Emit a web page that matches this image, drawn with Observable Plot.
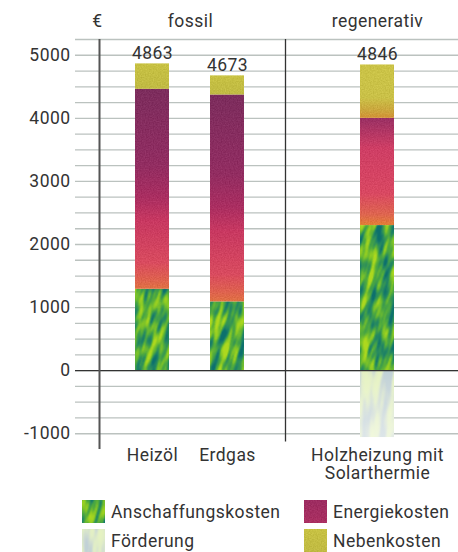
<!DOCTYPE html>
<html lang="de">
<head>
<meta charset="utf-8">
<script src="https://cdn.jsdelivr.net/npm/d3@7"></script>
<script src="https://cdn.jsdelivr.net/npm/@observablehq/plot@0.6"></script>
<style>
  body { margin: 0; background: #fff; font-family: Roboto, "DejaVu Sans", sans-serif; color: #333; }
  #chart svg { display: block; letter-spacing: 0.45px; }
  .legend { display: grid; grid-template-columns: 222px auto; row-gap: 6px; margin: 10px 0 0 82px;
            font-size: 17.5px; font-weight: 400; letter-spacing: 0.45px; color: #333; }
  .legend div { display: flex; align-items: center; height: 23px; }
  .legend svg { margin-right: 6px; flex: none; }
</style>
</head>
<body>
<div id="chart"></div>
<div class="legend" id="legend"></div>
<script>
// Kosten je Heizsystem (€)
const kategorien = ["Heizöl", "Erdgas", "Holzheizung mit\nSolarthermie"];
const anschaffung = [1290, 1090, 2300];
const energie = [3170, 3280, 1700];
const neben = [403, 303, 846];
const foerderung = [0, 0, -1060];
const gruppen = [
  {name: "fossil", von: "Heizöl"},
  {name: "regenerativ", von: "Holzheizung mit\nSolarthermie"}
];
const kostenarten = ["Anschaffungskosten", "Energiekosten", "Förderung", "Nebenkosten"];
const yLabels = [-1000, 0, 1000, 2000, 3000, 4000, 5000];
const gitter = d3.range(-1000, 5251, 250);

const reihen = [
  ["Anschaffungskosten", anschaffung],
  ["Energiekosten", energie],
  ["Nebenkosten", neben],
  ["Förderung", foerderung]
];
const daten = reihen
  .flatMap(([art, werte]) => werte.map((wert, i) => ({kategorie: kategorien[i], art, wert})))
  .filter((d) => d.wert !== 0);
const summen = kategorien.map((k, i) => ({kategorie: k, summe: anschaffung[i] + energie[i] + neben[i]}));

// Füllungen: Texturen und Verläufe aus den <defs>
const regenerativ = kategorien[2];
function fuellung(d) {
  switch (d.art) {
    case "Anschaffungskosten": return "url(#anschaffung)";
    case "Förderung": return "url(#foerderung)";
    case "Energiekosten": return d.kategorie === regenerativ ? "url(#energieHolz)" : "url(#energie)";
    default: return d.kategorie === regenerativ ? "url(#nebenHolz)" : "url(#neben)";
  }
}

const font = 17.5;
const textFarbe = "#333";
const plot = Plot.plot({
  width: 458,
  height: 490,
  marginLeft: 98,
  marginRight: 0,
  marginTop: 39,
  marginBottom: 41,
  style: {fontFamily: "Roboto, 'DejaVu Sans', sans-serif", fontSize: font + "px", fontWeight: 400, color: textFarbe, background: "transparent"},
  x: {domain: [kategorien[0], kategorien[1], "", kategorien[2]], paddingInner: 0.55, paddingOuter: 0.654, align: 0.364, axis: null},
  y: {domain: [-1250, 5250], axis: null},
  color: {type: "identity"},
  marks: [
    Plot.ruleY(gitter, {stroke: "#bbc2bf", strokeWidth: 1.3, insetLeft: -23}),
    Plot.barY(daten, {x: "kategorie", y: "wert", fill: fuellung}),
    // Förderung blasst nach unten aus
    Plot.barY(daten.filter((d) => d.art === "Förderung"), {x: "kategorie", y: "wert", fill: "url(#verblassen)"}),
    Plot.ruleY([0], {stroke: "#333", strokeWidth: 1.3, insetLeft: -23}),
    // senkrechte Achse und Trennlinie fossil | regenerativ
    Plot.ruleX([kategorien[0]], {x: (d) => d, dx: -53, stroke: "#555", strokeWidth: 2}),
    Plot.ruleX([""], {x: (d) => d, dx: -17, y1: 5250, y2: -1130, stroke: "#333", strokeWidth: 1.3}),
    Plot.text(yLabels, {y: (d) => d, text: (d) => String(d), frameAnchor: "left", textAnchor: "end", dx: -28, fontSize: font, fill: textFarbe}),
    Plot.text(summen, {x: "kategorie", y: "summe", text: (d) => String(d.summe), lineAnchor: "bottom", dy: -5, fontSize: font, fill: textFarbe}),
    Plot.text(kategorien, {x: (d) => d, text: (d) => d, frameAnchor: "bottom", lineAnchor: "top", dy: -2, lineHeight: 1.06, fontSize: font, fill: textFarbe}),
    Plot.text(["€"], {text: (d) => d, frameAnchor: "top-left", textAnchor: "middle", lineAnchor: "bottom", dx: -1, dy: -13, fontSize: font, fill: textFarbe}),
    Plot.text([gruppen[0]], {x: "von", text: "name", frameAnchor: "top", lineAnchor: "bottom", dx: 38, dy: -13, fontSize: font, fill: textFarbe}),
    Plot.text([gruppen[1]], {x: "von", text: "name", frameAnchor: "top", lineAnchor: "bottom", dy: -13, fontSize: font, fill: textFarbe})
  ]
});

const defs = `
<defs>
  <filter id="schlieren" x="0" y="0" width="1" height="1" color-interpolation-filters="sRGB">
    <feTurbulence type="fractalNoise" baseFrequency="0.14 0.038" numOctaves="2" seed="7" stitchTiles="stitch"/>
    <feColorMatrix type="matrix" values="2.2 0 0 0 -0.6  2.2 0 0 0 -0.6  2.2 0 0 0 -0.6  0 0 0 0 1"/>
    <feComponentTransfer>
      <feFuncR type="table" tableValues="0.05 0.15 0.30 0.52 0.68"/>
      <feFuncG type="table" tableValues="0.44 0.54 0.66 0.78 0.85"/>
      <feFuncB type="table" tableValues="0.43 0.38 0.25 0.15 0.12"/>
    </feComponentTransfer>
  </filter>
  <filter id="schlierenHell" x="0" y="0" width="1" height="1" color-interpolation-filters="sRGB">
    <feTurbulence type="fractalNoise" baseFrequency="0.12 0.025" numOctaves="2" seed="3" stitchTiles="stitch"/>
    <feColorMatrix type="matrix" values="2.6 0 0 0 -0.8  2.6 0 0 0 -0.8  2.6 0 0 0 -0.8  0 0 0 0 1"/>
    <feComponentTransfer>
      <feFuncR type="table" tableValues="0.76 0.82 0.88 0.90"/>
      <feFuncG type="table" tableValues="0.82 0.87 0.93 0.95"/>
      <feFuncB type="table" tableValues="0.84 0.82 0.78 0.76"/>
    </feComponentTransfer>
  </filter>
  <filter id="korn" x="0" y="0" width="1" height="1" color-interpolation-filters="sRGB">
    <feTurbulence type="fractalNoise" baseFrequency="0.75" numOctaves="1" seed="4" result="rauschen"/>
    <feColorMatrix in="rauschen" type="matrix" values="1 0 0 0 0  1 0 0 0 0  1 0 0 0 0  0 0 0 0 0.14" result="grau"/>
    <feComposite in="grau" in2="SourceGraphic" operator="in" result="koernung"/>
    <feMerge><feMergeNode in="SourceGraphic"/><feMergeNode in="koernung"/></feMerge>
  </filter>
  <pattern id="anschaffung" patternUnits="userSpaceOnUse" width="240" height="240" patternTransform="rotate(16)">
    <rect width="240" height="240" filter="url(#schlieren)"/>
  </pattern>
  <pattern id="foerderung" patternUnits="userSpaceOnUse" width="240" height="240" patternTransform="rotate(6)">
    <rect width="240" height="240" filter="url(#schlierenHell)"/>
  </pattern>
  <linearGradient id="verblassen" x1="0" y1="0" x2="0" y2="1">
    <stop offset="0" stop-color="#fff" stop-opacity="0"/>
    <stop offset="1" stop-color="#fff" stop-opacity="0.45"/>
  </linearGradient>
  <linearGradient id="energie" x1="0" y1="0" x2="0" y2="1">
    <stop offset="0" stop-color="#7c2058"/>
    <stop offset="0.38" stop-color="#95205d"/>
    <stop offset="0.54" stop-color="#b1215d"/>
    <stop offset="0.66" stop-color="#d42d5c"/>
    <stop offset="0.87" stop-color="#e8435a"/>
    <stop offset="0.95" stop-color="#ee5c48"/>
    <stop offset="1" stop-color="#f0703a"/>
  </linearGradient>
  <linearGradient id="energieHolz" x1="0" y1="0" x2="0" y2="1">
    <stop offset="0" stop-color="#9e2460"/>
    <stop offset="0.28" stop-color="#dc3461"/>
    <stop offset="0.7" stop-color="#e83f5e"/>
    <stop offset="0.9" stop-color="#ee6148"/>
    <stop offset="1" stop-color="#f27f2c"/>
  </linearGradient>
  <linearGradient id="neben" x1="0" y1="0" x2="0" y2="1">
    <stop offset="0" stop-color="#d4cd3a"/>
    <stop offset="1" stop-color="#cbc43a"/>
  </linearGradient>
  <linearGradient id="nebenHolz" x1="0" y1="0" x2="0" y2="1">
    <stop offset="0" stop-color="#d8cf3e"/>
    <stop offset="0.62" stop-color="#d7cc3f"/>
    <stop offset="0.88" stop-color="#d8aa32"/>
    <stop offset="1" stop-color="#e0952a"/>
  </linearGradient>
  <linearGradient id="energieLegende" x1="0" y1="0" x2="0" y2="1">
    <stop offset="0" stop-color="#a21f5c"/>
    <stop offset="1" stop-color="#b2235e"/>
  </linearGradient>
</defs>`;
plot.insertAdjacentHTML("afterbegin", defs);

// feine Körnung auf den Verlaufsflächen
d3.select(plot).selectAll("rect")
  .filter(function () { return /energie|neben/i.test(this.getAttribute("fill") || ""); })
  .attr("filter", "url(#korn)");
document.getElementById("chart").append(plot);

// Legende
const legendeFill = {
  "Anschaffungskosten": "url(#anschaffung)",
  "Energiekosten": "url(#energieLegende)",
  "Förderung": "url(#foerderung)",
  "Nebenkosten": "url(#neben)"
};
const legende = d3.select("#legend");
for (const art of kostenarten) {
  const eintrag = legende.append("div");
  eintrag.append("svg").attr("width", 23).attr("height", 23)
    .append("rect").attr("width", 23).attr("height", 23).attr("fill", legendeFill[art])
    .attr("filter", /Energie|Neben/.test(art) ? "url(#korn)" : null);
  eintrag.append("span").text(art);
}
</script>
</body>
</html>
